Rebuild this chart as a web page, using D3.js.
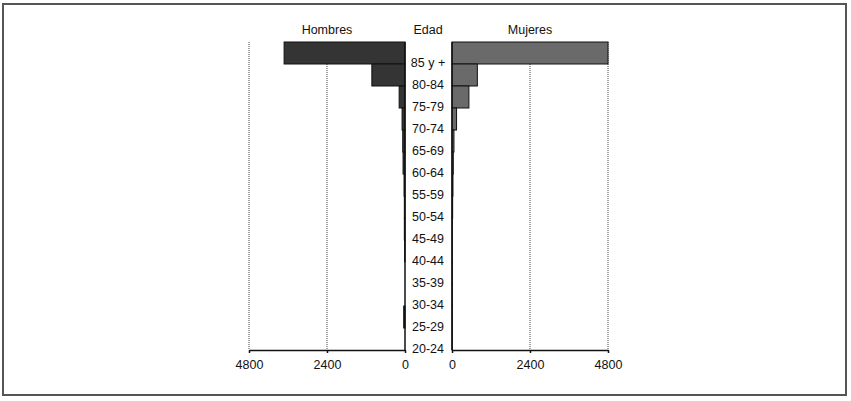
<!DOCTYPE html>
<html>
<head>
<meta charset="utf-8">
<script src="https://cdn.jsdelivr.net/npm/d3@7"></script>
<style>
  body { margin: 0; background: #fff; }
  svg text { font-family: "Liberation Sans", Arial, sans-serif; fill: #111; }
</style>
</head>
<body>
<div id="chart"></div>
<script>
// age groups, oldest on top
var ages = ["85 y +", "80-84", "75-79", "70-74", "65-69", "60-64", "55-59",
            "50-54", "45-49", "40-44", "35-39", "30-34", "25-29", "20-24"];
var hombres = [3720, 1020, 180, 90, 70, 60, 30, 20, 20, 10, 0, 0, 40, 0];
var mujeres = [4800, 780, 520, 140, 60, 40, 30, 20, 10, 10, 10, 10, 10, 10];
var ticks = [0, 2400, 4800];

var w = 851, h = 401;

var svg = d3.select("#chart").append("svg")
    .attr("width", w)
    .attr("height", h);

// outer frame
svg.append("rect")
    .attr("x", 3).attr("y", 4)
    .attr("width", 843).attr("height", 391)
    .attr("fill", "none")
    .attr("stroke", "#555")
    .attr("stroke-width", 2);

var xL = d3.scaleLinear().domain([0, 4800]).range([405, 249]);   // hombres, grows left
var xR = d3.scaleLinear().domain([0, 4800]).range([452, 608]);   // mujeres, grows right
var y = d3.scaleBand().domain(ages).range([42, 350]).padding(0);

// dotted grid lines
[xL, xR].forEach(function(x) {
    svg.selectAll(null)
        .data(ticks.filter(t => t > 0))
        .enter()
        .append("line")
        .attr("x1", d => x(d)).attr("x2", d => x(d))
        .attr("y1", y.range()[0]).attr("y2", y.range()[1])
        .attr("stroke", "#444")
        .attr("stroke-width", 1)
        .attr("stroke-dasharray", "1,1");
});

// bars (keep age with each value so filtering keeps the right row)
function drawBars(vals, x, color) {
    var rows = vals.map((v, i) => ({ age: ages[i], v: v })).filter(d => d.v > 0);
    svg.selectAll(null)
        .data(rows)
        .enter()
        .append("rect")
        .attr("x", d => Math.min(x(0), x(d.v)))
        .attr("y", d => y(d.age))
        .attr("width", d => Math.abs(x(d.v) - x(0)))
        .attr("height", y.bandwidth())
        .attr("fill", color)
        .attr("stroke", "#111")
        .attr("stroke-width", 1);
}
drawBars(hombres, xL, "#343434");
drawBars(mujeres, xR, "#6a6a6a");

// zero lines
[xL, xR].forEach(function(x) {
    svg.append("line")
        .attr("x1", x(0)).attr("x2", x(0))
        .attr("y1", y.range()[0]).attr("y2", y.range()[1])
        .attr("stroke", "#111")
        .attr("stroke-width", 1.5);
});

// bottom axes
[xL, xR].forEach(function(x) {
    var g = svg.append("g")
        .attr("transform", "translate(0," + y.range()[1] + ")")
        .call(d3.axisBottom(x).tickValues(ticks).tickSize(3).tickSizeOuter(0).tickFormat(d3.format("d")));
    g.select(".domain").attr("stroke", "#111").attr("stroke-width", 1.5);
    g.selectAll(".tick line").attr("stroke", "#111").attr("stroke-width", 1.5);
    g.selectAll(".tick text")
        .attr("dy", "1.05em")
        .attr("font-size", 12.5)
        .attr("font-family", null)
        .attr("fill", "#111");
});

// age labels in the middle
svg.selectAll(".age")
    .data(ages)
    .enter()
    .append("text")
    .attr("class", "age")
    .attr("x", 428)
    .attr("y", d => y(d) + y.bandwidth() - 1)
    .attr("dy", "0.35em")
    .attr("text-anchor", "middle")
    .attr("font-size", 12.5)
    .text(d => d);

// headers
var heads = [["Hombres", xL(2400)], ["Edad", 428], ["Mujeres", xR(2400)]];
svg.selectAll(".head")
    .data(heads)
    .enter()
    .append("text")
    .attr("class", "head")
    .attr("x", d => d[1])
    .attr("y", 34)
    .attr("text-anchor", "middle")
    .attr("font-size", 12.5)
    .text(d => d[0]);
</script>
</body>
</html>
